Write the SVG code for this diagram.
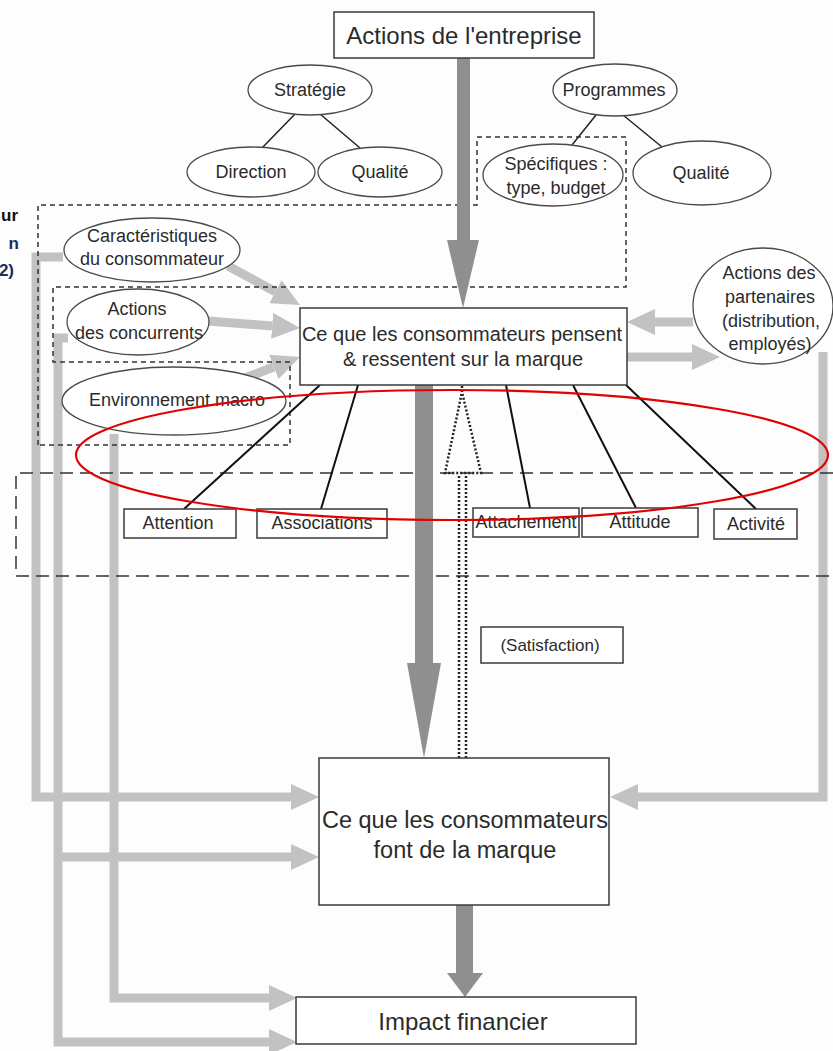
<svg xmlns="http://www.w3.org/2000/svg" width="833" height="1051" viewBox="0 0 833 1051">
<style>
.box{fill:#fff;stroke:#3a3a3a;stroke-width:1.5}
.ell{fill:#fff;stroke:#4a4a4a;stroke-width:1.3}
.t{font-family:"Liberation Sans",Arial,sans-serif;fill:#2b2b2b;text-anchor:middle;dominant-baseline:central}
.gl{fill:none;stroke:#c2c2c2;stroke-width:9;stroke-linejoin:miter}
.dk{fill:#8f8f8f}
.tree{stroke:#222;stroke-width:1.5;fill:none}
.attr{stroke:#111;stroke-width:2;fill:none}
.dot{stroke:#222;stroke-width:2.5;stroke-dasharray:2 2;fill:none}
.fr1{fill:none;stroke:#333;stroke-width:1.5;stroke-dasharray:5 4}
.fr2{fill:none;stroke:#333;stroke-width:1.5;stroke-dasharray:13 7}
.frag{font-family:"Liberation Sans",Arial,sans-serif;font-weight:bold;font-size:17px;text-anchor:end}
</style>
<defs>
<marker id="gh" markerUnits="userSpaceOnUse" viewBox="0 0 28 26" markerWidth="28" markerHeight="26" refX="0" refY="13" orient="auto">
<path d="M0,0 L28,13 L0,26 Z" fill="#c2c2c2"/>
</marker>
</defs>
<rect width="833" height="1051" fill="#fdfdfd"/>

<text class="frag" x="18" y="221" fill="#111">ur</text>
<text class="frag" x="19" y="249" fill="#1f2a5a">n</text>
<text class="frag" x="14" y="276" fill="#1f2a5a">2)</text>

<g id="connectors">
<path class="gl" d="M63,257 H36 V797 H291" marker-end="url(#gh)"/>
<path class="gl" d="M68,338 H58 V1042 H269" marker-end="url(#gh)"/>
<path class="gl" d="M58,857 H291" marker-end="url(#gh)"/>
<path class="gl" d="M114,434 V998 H269" marker-end="url(#gh)"/>
<path class="gl" d="M823,352 V797 H638" marker-end="url(#gh)"/>
<path class="gl" d="M228,266 L275.4,291.7" marker-end="url(#gh)"/>
<path class="gl" d="M208,321 L272.1,325.9" marker-end="url(#gh)"/>
<path class="gl" d="M245,378 L273.8,367" marker-end="url(#gh)"/>
<path class="gl" d="M693,322 H655" marker-end="url(#gh)"/>
<path class="gl" d="M627,357 H692" marker-end="url(#gh)"/>

<path class="fr1" d="M38,445 V205 H477 V137 H626 V287 H53 V362 H290 V445 Z"/>
<path class="fr2" d="M833,473 H16 V576 H833"/>

<rect class="dk" x="457" y="58" width="13" height="183"/>
<polygon class="dk" points="447,240 479,240 463,308"/>
<rect class="dk" x="415" y="385" width="18" height="279"/>
<polygon class="dk" points="407,663 441,663 424,758"/>
<rect class="dk" x="456" y="905" width="17" height="69"/>
<polygon class="dk" points="447,973 483,973 465,997"/>

<path class="tree" d="M295,114 L262,148 M320,114 L360,148 M596,115 L572,145 M623,115 L662,147"/>
<path class="attr" d="M320,385 L184,509 M358,385 L321,509 M506,385 L530,508 M573,385 L636,508 M626,385 L756,509"/>

<path class="dot" d="M459,758 V474 M466,758 V474"/>
<path class="dot" d="M462,386 V392 L445,473 L481,473 L462,392"/>
</g>

<g id="n-entreprise"><rect class="box" x="334" y="12" width="260" height="46"/><text class="t" x="464" y="35" font-size="24">Actions de l'entreprise</text></g>
<g id="n-strategie"><ellipse class="ell" cx="310" cy="90" rx="62" ry="25"/><text class="t" x="310" y="90" font-size="18">Stratégie</text></g>
<g id="n-direction"><ellipse class="ell" cx="251" cy="172" rx="64" ry="25"/><text class="t" x="251" y="172" font-size="18">Direction</text></g>
<g id="n-qualite1"><ellipse class="ell" cx="380" cy="172" rx="62" ry="25"/><text class="t" x="380" y="172" font-size="18">Qualité</text></g>
<g id="n-programmes"><ellipse class="ell" cx="615" cy="90" rx="62" ry="26"/><text class="t" x="614" y="90" font-size="18">Programmes</text></g>
<g id="n-specifiques"><ellipse class="ell" cx="553" cy="175" rx="70" ry="31"/><text class="t" x="556" y="164" font-size="18">Spécifiques :</text><text class="t" x="556" y="188" font-size="18">type, budget</text></g>
<g id="n-qualite2"><ellipse class="ell" cx="702" cy="173" rx="69" ry="32"/><text class="t" x="701" y="173" font-size="18">Qualité</text></g>

<g id="n-caract"><ellipse class="ell" cx="152" cy="250" rx="88" ry="32"/><text class="t" x="152" y="236" font-size="18">Caractéristiques</text><text class="t" x="152" y="259" font-size="18">du consommateur</text></g>
<g id="n-concurrents"><ellipse class="ell" cx="138" cy="322" rx="71" ry="33"/><text class="t" x="137" y="309" font-size="18">Actions</text><text class="t" x="139" y="333" font-size="18">des concurrents</text></g>
<g id="n-environnement"><ellipse class="ell" cx="174" cy="401" rx="112" ry="34"/><text class="t" x="177" y="400" font-size="18">Environnement macro</text></g>

<g id="n-pensent"><rect class="box" x="300" y="308" width="327" height="77"/><text class="t" x="462" y="334" font-size="20">Ce que les consommateurs pensent</text><text class="t" x="463" y="359" font-size="20">&amp; ressentent sur la marque</text></g>
<g id="n-partenaires"><ellipse class="ell" cx="763" cy="306" rx="70" ry="58"/><text class="t" x="769" y="273" font-size="18">Actions des</text><text class="t" x="770" y="297" font-size="18">partenaires</text><text class="t" x="771" y="321" font-size="18">(distribution,</text><text class="t" x="770" y="344" font-size="18">employés)</text></g>

<g id="n-attention"><rect class="box" x="124" y="509" width="112" height="29"/><text class="t" x="178" y="523" font-size="18">Attention</text></g>
<g id="n-associations"><rect class="box" x="257" y="509" width="130" height="29"/><text class="t" x="322" y="523" font-size="18">Associations</text></g>
<g id="n-attachement"><rect class="box" x="473" y="508" width="106" height="29"/><text class="t" x="526" y="522" font-size="18">Attachement</text></g>
<g id="n-attitude"><rect class="box" x="582" y="508" width="116" height="29"/><text class="t" x="640" y="522" font-size="18">Attitude</text></g>
<g id="n-activite"><rect class="box" x="714" y="509" width="83" height="30"/><text class="t" x="756" y="524" font-size="18">Activité</text></g>

<g id="n-satisfaction"><rect class="box" x="481" y="627" width="142" height="36"/><text class="t" x="550" y="645" font-size="17">(Satisfaction)</text></g>
<g id="n-font"><rect class="box" x="319" y="758" width="290" height="147"/><text class="t" x="465" y="820" font-size="23.5">Ce que les consommateurs</text><text class="t" x="465" y="850" font-size="23.5">font de la marque</text></g>
<g id="n-impact"><rect class="box" x="296" y="997" width="340" height="47"/><text class="t" x="463" y="1021" font-size="24">Impact financier</text></g>

<ellipse id="highlight" cx="452" cy="455" rx="376" ry="65" fill="none" stroke="#e30000" stroke-width="2.2"/>
</svg>
